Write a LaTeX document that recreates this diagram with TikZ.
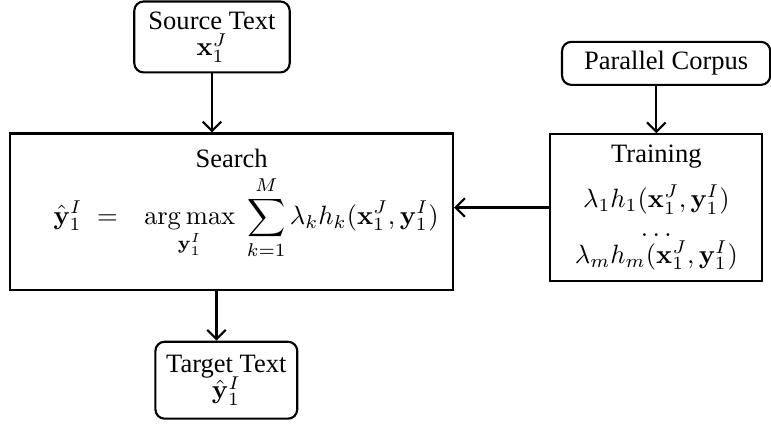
\documentclass[tikz,border=0pt]{standalone}
\usepackage{amsmath}
\usepackage[no-math]{fontspec}
\setmainfont{Liberation Serif}
\usetikzlibrary{arrows.meta}

\begin{document}
\begin{tikzpicture}[
    databox/.style={draw, line width=0.8pt, rounded corners=3.5pt, align=center, inner sep=1pt},
    stagebox/.style={draw, line width=0.8pt, align=center},
    flow/.style={line width=0.8pt, -{Straight Barb[length=3.5pt,width=7pt,line width=0.8pt]}}
  ]
    \useasboundingbox (0,0) rectangle (10.22,5.61);

    % Draw the source text box
    \node[databox, minimum width=2.06cm, minimum height=0.94cm] (src) at (2.81,5.12)
        {Source Text\\[-2pt] $\mathbf{x}_1^J$};

    % Draw the search box with the decision rule
    \node[stagebox, minimum width=5.87cm, minimum height=2.08cm] (search) at (3.07,2.80)
        {Search\\[2pt]
         \hspace*{11pt}$\displaystyle \hat{\mathbf{y}}_1^I \;= \;\;\,\operatorname*{arg\,max}_{\mathbf{y}_1^I}\;
          \sum_{k=1}^{M} \lambda_k h_k(\mathbf{x}_1^J,\mathbf{y}_1^I)$\\[5pt]};

    % Draw the target text box
    \node[databox, minimum width=1.88cm, minimum height=1.02cm] (tgt) at (3.00,0.57)
        {Target Text\\[-2pt] $\hat{\mathbf{y}}_1^I$};

    % Draw the parallel corpus box
    \node[databox, minimum width=2.76cm, minimum height=0.57cm] (corpus) at (8.83,4.77)
        {Parallel Corpus};

    % Draw the training box with the feature functions
    \node[stagebox, minimum width=2.81cm, minimum height=1.94cm] (train) at (8.70,2.86)
        {Training\\[5pt]
         $\lambda_1 h_1(\mathbf{x}_1^J,\mathbf{y}_1^I)$\\[-1pt]
         $\ldots$\\[-2pt]
         $\lambda_m h_m(\mathbf{x}_1^J,\mathbf{y}_1^I)$};

    % Connect the boxes
    \draw[flow] (src.south) -- (src.south |- search.north);
    \draw[flow] ([xshift=-0.13cm]tgt.north |- search.south) -- ([xshift=-0.13cm]tgt.north);
    \draw[flow] (train.north |- corpus.south) -- (train.north);
    \draw[flow] (train.west) -- (train.west -| search.east);
\end{tikzpicture}
\end{document}
